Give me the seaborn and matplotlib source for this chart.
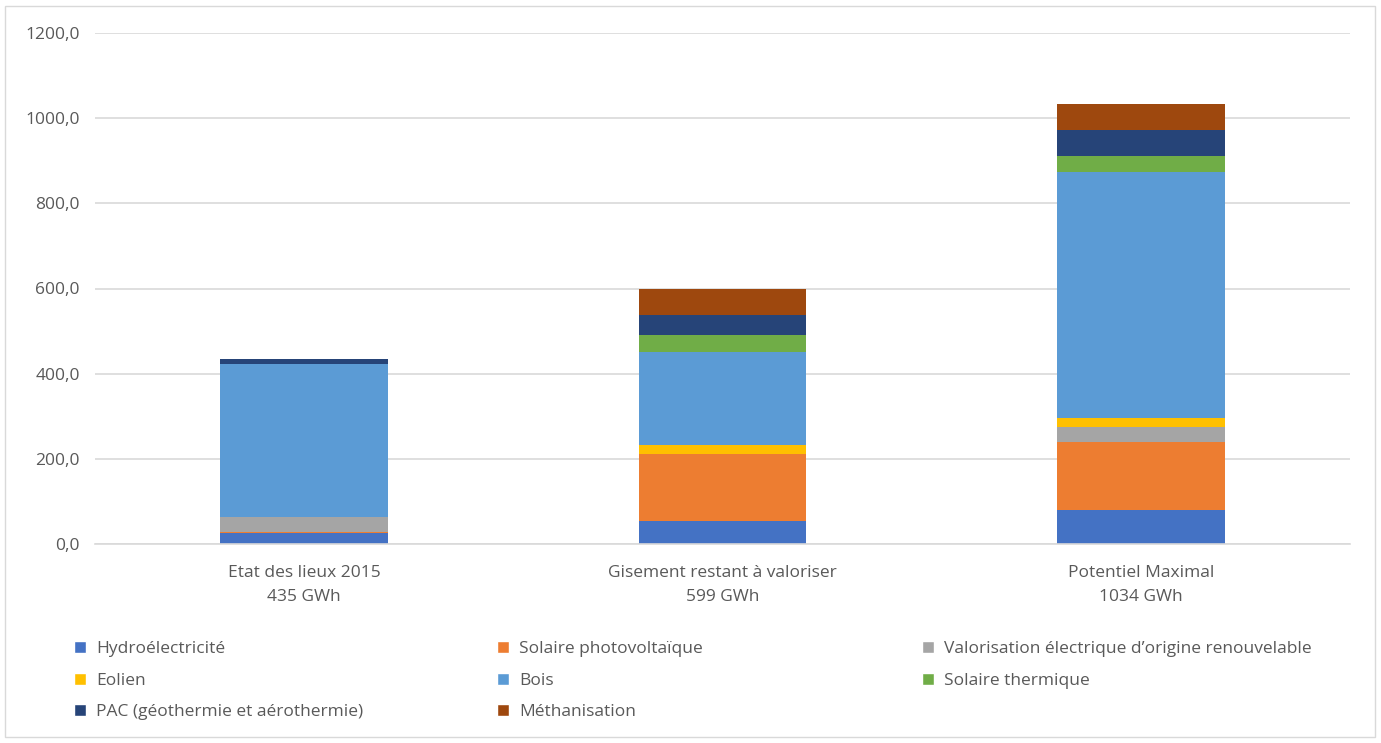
import numpy as np
import matplotlib
matplotlib.use("Agg")
import matplotlib.pyplot as plt
from matplotlib.patches import Patch, Rectangle
import seaborn as sns

# données (GWh)
categories = ["Etat des lieux 2015\n435 GWh", "Gisement restant à valoriser\n599 GWh", "Potentiel Maximal\n1034 GWh"]
series = ["Hydroélectricité", "Solaire photovoltaïque", "Valorisation électrique d’origine renouvelable",
          "Eolien", "Bois", "Solaire thermique", "PAC (géothermie et aérothermie)", "Méthanisation"]
hydro = [25, 54, 79]
solaire_pv = [3, 158, 161]
valorisation = [35, 0, 35]
eolien = [0, 20, 20]
bois = [359, 220, 579]
solaire_th = [0, 38, 38]
pac = [13, 47, 60]
methanisation = [0, 62, 62]
colors = ["#4472C4", "#ED7D31", "#A5A5A5", "#FFC000", "#5B9BD5", "#70AD47", "#264478", "#9E480E"]

values = [hydro, solaire_pv, valorisation, eolien, bois, solaire_th, pac, methanisation]

sns.set_style("white")
plt.rcParams['font.family'] = ['Open Sans', 'DejaVu Sans']
text_col = "#595959"
W, H = 1381, 743

fig = plt.figure(figsize=(W / 100, H / 100), dpi=100)
ax = fig.add_axes([95 / W, 1 - 544 / H, (1350 - 95) / W, (544 - 33) / H])

bottom = np.zeros(len(categories))
for name, vals, c in zip(series, values, colors):
    sns.barplot(x=categories, y=vals, bottom=bottom, color=c, width=0.4,
                ax=ax, saturation=1, edgecolor="none", linewidth=0)
    bottom += np.array(vals)

ax.set_ylim(0, 1200)
ax.set_xlim(-0.5, 2.5)
ax.set_yticks(np.arange(0, 1201, 200))
ax.set_yticklabels([f"{v:.1f}".replace(".", ",") for v in np.arange(0, 1201, 200)])
ax.yaxis.grid(True, color="#D9D9D9", linewidth=1.2)
ax.set_axisbelow(True)
for s in ["top", "right", "left"]:
    ax.spines[s].set_visible(False)
ax.spines["bottom"].set_color("#D9D9D9")
ax.spines["bottom"].set_linewidth(1.2)
ax.tick_params(axis="both", length=0, colors=text_col, labelsize=12.5)
ax.tick_params(axis="y", pad=11)
ax.tick_params(axis="x", pad=15)
for lbl in ax.get_xticklabels():
    lbl.set_linespacing(1.65)
ax.set_xlabel("")
ax.set_ylabel("")

# légende : trois colonnes placées comme dans Excel
handles = [Patch(facecolor=c, label=n) for n, c in zip(series, colors)]
columns = [[0, 3, 6], [1, 4, 7], [2, 5]]
col_x = [69, 492, 917]
for idx, x0 in zip(columns, col_x):
    leg = fig.legend([handles[i] for i in idx], [series[i] for i in idx],
                     loc="upper left", bbox_to_anchor=(x0 / W, 1 - 636 / H),
                     frameon=False, fontsize=12.5, handlelength=0.7, handleheight=0.7,
                     handletextpad=0.55, labelspacing=0.88, labelcolor=text_col,
                     borderaxespad=0, borderpad=0.3)

fig.patches.append(Rectangle((5 / W, 6 / H), 1370 / W, 731 / H, transform=fig.transFigure,
                             fill=False, edgecolor="#D9D9D9", linewidth=1))

fig.savefig("out.png", dpi=100)
